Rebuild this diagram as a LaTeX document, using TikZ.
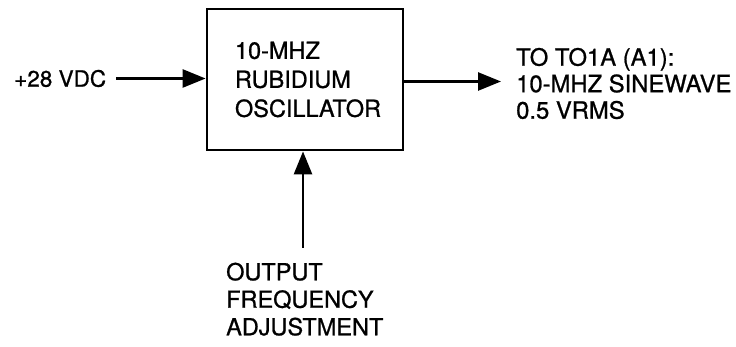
\documentclass[tikz,border=0pt]{standalone}
\usepackage{fontspec}
\setmainfont{TeX Gyre Heros}[FakeBold=0.9]
\usetikzlibrary{arrows.meta}
\begin{document}
\begin{tikzpicture}[x=1pt,y=1pt,
  lbl/.style={font=\fontsize{23.5}{26}\selectfont, align=left, inner sep=0pt},
  conn/.style={line width=2.6pt, -{Triangle[length=23pt,width=18pt]}},
  blk/.style={draw, line width=2.8pt, minimum width=196pt, minimum height=141pt, text width=140pt, inner xsep=28pt, align=left,
     font=\fontsize{23.5}{29}\selectfont}]
\useasboundingbox (0,0) rectangle (736,347);
\node[blk] (box) at (305,267.5) {10-MHZ\\RUBIDIUM\\OSCILLATOR};
\node[lbl, anchor=west, font=\fontsize{22.5}{26}\selectfont] (vdc) at (14,268.5) {+28 VDC};
\coordinate (vdcstart) at (116,268.5);
\draw[conn] (vdcstart) -- (vdcstart -| box.west);
\node[lbl, anchor=west, font=\fontsize{23.8}{26.5}\selectfont] (out) at (516,263.5) {TO TO1A (A1):\\10-MHZ SINEWAVE\\0.5 VRMS};
\coordinate (outtip) at (501,265.5);
\draw[conn] (box.east |- outtip) -- (outtip);
\node[lbl, anchor=north west, font=\fontsize{23.5}{27.5}\selectfont] (adj) at (226,84.5) {OUTPUT\\FREQUENCY\\ADJUSTMENT};
\coordinate (adjtop) at (303,99);
\draw[conn] (adjtop) -- (adjtop |- box.south);
\end{tikzpicture}
\end{document}
